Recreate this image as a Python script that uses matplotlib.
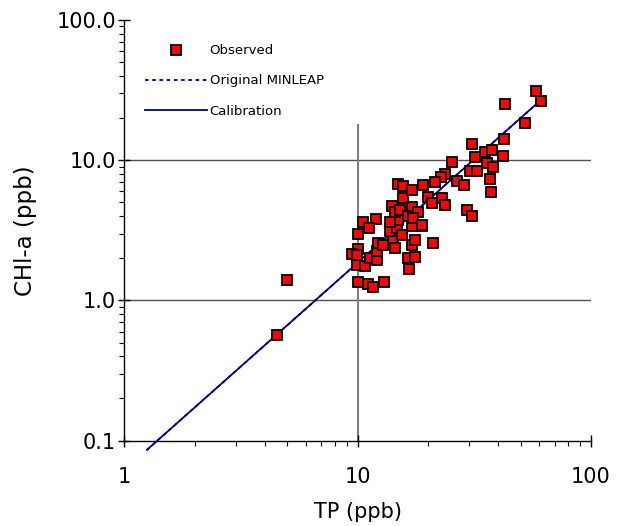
import matplotlib
matplotlib.use("Agg")
import matplotlib.pyplot as plt
from matplotlib.ticker import LogLocator, FixedFormatter, FixedLocator, NullFormatter

plt.rcParams['font.family'] = ['DejaVu Sans']

# Observed data (TP ppb, CHl-a ppb)
tp_obs = [4.51, 4.98, 10.0, 11.08, 11.64, 12.98, 10.0, 9.46, 9.94, 9.94,
          10.76, 11.30, 12.11, 12.11, 12.23, 12.85, 14.18, 14.47, 17.11, 17.62,
          21.04, 16.44, 17.62, 16.61, 13.77, 14.76, 15.50, 17.11, 18.88, 10.55,
          11.99, 11.19, 10.0, 14.90, 13.77, 14.04, 14.47, 15.20, 17.11, 18.15,
          16.44, 17.28, 18.88, 15.65, 20.03, 20.84, 23.00, 23.69, 14.90, 15.65,
          17.11, 19.07, 25.39, 23.69, 22.78, 21.47, 26.68, 30.93, 31.86, 35.16,
          37.68, 35.86, 38.05, 30.33, 32.49, 28.58, 36.94, 37.31, 29.44, 30.93,
          42.42, 42.01, 42.84, 52.19, 58.17, 61.11]
chl_obs = [0.57, 1.41, 1.36, 1.32, 1.25, 1.36, 2.34, 2.15, 2.12, 1.80,
           1.77, 2.02, 1.95, 2.26, 2.58, 2.50, 2.71, 2.38, 2.50, 2.71,
           2.58, 2.02, 2.05, 1.68, 3.14, 3.30, 2.94, 3.41, 3.41, 3.64,
           3.83, 3.30, 2.99, 3.76, 3.64, 4.74, 4.29, 4.44, 4.66, 4.29,
           4.02, 3.89, 3.47, 5.40, 5.49, 4.98, 5.40, 4.82, 6.80, 6.58,
           6.16, 6.69, 9.75, 8.01, 7.63, 7.03, 7.14, 13.12, 10.59, 11.50,
           11.88, 9.60, 8.99, 8.42, 8.42, 6.69, 7.38, 5.96, 4.44, 4.02,
           14.23, 10.77, 25.3, 18.51, 31.3, 26.58]

# Model lines (end points)
calib_tp = [1.25, 58.7]
calib_chl = [0.086, 25.3]
orig_tp = [1.25, 58.7]
orig_chl = [0.086, 25.3]

x_ticks = [1, 10, 100]
x_labels = ['1', '10', '100']
y_ticks = [0.1, 1, 10, 100]
y_labels = ['0.1', '1.0', '10.0', '100.0']

fig = plt.figure(figsize=(6.17, 5.26), dpi=100)
ax = fig.add_axes([0.2015, 0.1622, 0.7559, 0.7998])
ax.set_xscale('log')
ax.set_yscale('log')
ax.set_xlim(1, 100)
ax.set_ylim(0.1, 100)

# reference grid lines
ax.axhline(10, color='#505050', lw=1.0, zorder=1)
ax.axhline(1, color='#505050', lw=1.0, zorder=1)
ax.axvline(10, ymin=0, ymax=0.75, color='#808080', lw=1.5, zorder=1)

navy = '#000080'
ax.plot(orig_tp, orig_chl, linestyle=(0, (2, 2)), color=navy, lw=1.3,
        label='Original MINLEAP', clip_on=False, zorder=2)
ax.plot(calib_tp, calib_chl, linestyle='-', color=navy, lw=1.3,
        label='Calibration', clip_on=False, zorder=3)
ax.plot(tp_obs, chl_obs, linestyle='none', marker='s', ms=7.2,
        mfc='#FF0000', mec='black', mew=1.3, label='Observed', zorder=4)

for s in ['top', 'right']:
    ax.spines[s].set_visible(False)
for s in ['left', 'bottom']:
    ax.spines[s].set_linewidth(1.0)

ax.xaxis.set_major_locator(FixedLocator(x_ticks))
ax.xaxis.set_major_formatter(FixedFormatter(x_labels))
ax.yaxis.set_major_locator(FixedLocator(y_ticks))
ax.yaxis.set_major_formatter(FixedFormatter(y_labels))
ax.xaxis.set_minor_locator(LogLocator(base=10, subs=range(2, 10)))
ax.yaxis.set_minor_locator(LogLocator(base=10, subs=range(2, 10)))
ax.xaxis.set_minor_formatter(NullFormatter())
ax.yaxis.set_minor_formatter(NullFormatter())

ax.tick_params(axis='x', which='major', direction='inout', length=8, width=1.0,
               pad=15, labelsize=15)
ax.tick_params(axis='y', which='major', direction='inout', length=8, width=1.0,
               pad=2, labelsize=15)
ax.tick_params(which='minor', direction='out', length=3.6, width=0.8)

ax.set_xlabel('TP (ppb)', fontsize=15, labelpad=11)
ax.set_ylabel('CHl-a (ppb)', fontsize=16.5, labelpad=14)

handles, labels = ax.get_legend_handles_labels()
order = [2, 0, 1]
leg = ax.legend([handles[i] for i in order], [labels[i] for i in order],
                loc='upper left', bbox_to_anchor=(0.033, 0.955), frameon=False,
                fontsize=9.5, handlelength=4.7, handletextpad=0.2,
                labelspacing=1.3, borderaxespad=0.0)

fig.savefig('out.png', dpi=100)
